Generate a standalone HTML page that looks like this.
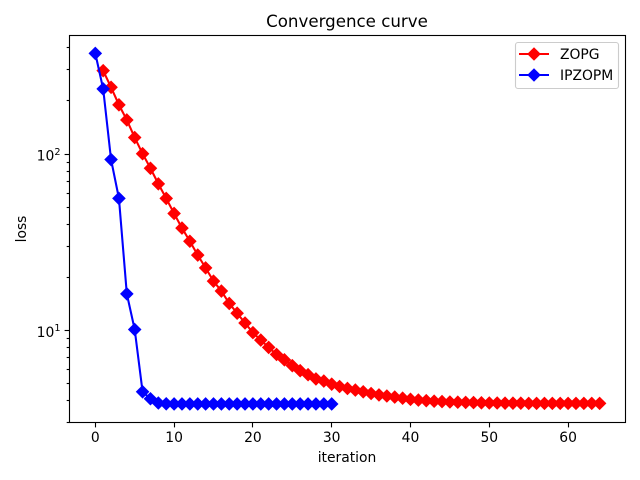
<!DOCTYPE html>
<html>
<head>
<meta charset="utf-8">
<title>Convergence curve</title>
<style>
html,body{margin:0;padding:0;background:#fff;}
svg{display:block;}
text{font-family:"DejaVu Sans","Liberation Sans",sans-serif;fill:#000;}
</style>
</head>
<body>
<svg id="chart" xmlns="http://www.w3.org/2000/svg" width="640" height="480" viewBox="0 0 640 480">
  <rect x="0" y="0" width="640" height="480" fill="#fff"/>
  <text x="347" y="27" font-size="16.67" text-anchor="middle">Convergence curve</text>
  <g id="marks"></g>
  <g id="axes"></g>
  <rect x="69.5" y="35.5" width="556" height="387" fill="none" stroke="#000" stroke-width="1.11"/>
  <text x="347" y="462" font-size="13.89" text-anchor="middle">iteration</text>
  <text transform="translate(26,229) rotate(-90)" font-size="13.89" text-anchor="middle">loss</text>
  <g>
    <rect x="515.5" y="42.5" width="103" height="46" rx="2.5" fill="#fff" fill-opacity="0.8" stroke="#ccc" stroke-width="1.11"/>
    <g>
      <line x1="519" y1="54" x2="549" y2="54" stroke="#f00" stroke-width="2.08"/>
      <polygon points="534,47.2 540.8,54 534,60.8 527.2,54" fill="#f00"/>
      <text x="560" y="59" font-size="13.89">ZOPG</text>
    </g>
    <g>
      <line x1="519" y1="75" x2="549" y2="75" stroke="#00f" stroke-width="2.08"/>
      <polygon points="534,68.2 540.8,75 534,81.8 527.2,75" fill="#00f"/>
      <text x="560" y="80" font-size="13.89">IPZOPM</text>
    </g>
  </g>
</svg>
<script>
var zopgStart = 1;
var ipzopmStart = 0;
var zopgValues = [297,239,190,156,124,100.4,83,67.7,56,46,38,32,26.7,22.6,19,16.7,14.2,12.5,11,9.7,8.8,8,7.3,6.8,6.3,5.9,5.6,5.3,5.15,4.95,4.8,4.68,4.58,4.48,4.38,4.3,4.24,4.18,4.12,4.06,4.02,3.99,3.96,3.94,3.92,3.91,3.9,3.89,3.88,3.87,3.87,3.86,3.86,3.86,3.85,3.85,3.85,3.85,3.85,3.85,3.85,3.85,3.85,3.85];
var ipzopmValues = [372,234,93,56,16.1,10.1,4.48,4.09,3.87,3.83,3.82,3.82,3.82,3.82,3.82,3.82,3.82,3.82,3.82,3.82,3.82,3.82,3.82,3.82,3.82,3.82,3.82,3.82,3.82,3.82,3.82];
var xTicks = [0,10,20,30,40,50,60];
var yMajorTicks = [10,100];
var yMajorExponents = ["1","2"];
var yMinorTicks = [3,4,5,6,7,8,9,20,30,40,50,60,70,80,90,200,300,400];

var NS = 'http://www.w3.org/2000/svg';
function xScale(v){ return 95.3 + v * 7.88; }
function yScale(v){ return 330.3 - (Math.log(v) / Math.LN10 - 1) * 176.3; }
function snap(p){ return Math.round(p - 0.5) + 0.5; }
function make(tag, parent){
  var el = document.createElementNS(NS, tag);
  parent.appendChild(el);
  return el;
}
var marks = document.getElementById('marks');
var axes = document.getElementById('axes');

function drawSeries(values, start, color, label){
  var pts = values.map(function(v, i){ return [xScale(start + i), yScale(v)]; });
  var line = make('polyline', marks);
  
  
  line.setAttribute('points', pts.map(function(p){ return p[0].toFixed(2) + ',' + p[1].toFixed(2); }).join(' '));
  line.setAttribute('fill', 'none');
  line.setAttribute('stroke', color);
  line.setAttribute('stroke-width', '2.08');
  pts.forEach(function(p){
    var d = 6.8;
    var m = make('polygon', marks);
    
    
    m.setAttribute('points', p[0].toFixed(2) + ',' + (p[1]-d).toFixed(2) + ' ' + (p[0]+d).toFixed(2) + ',' + p[1].toFixed(2) + ' ' + p[0].toFixed(2) + ',' + (p[1]+d).toFixed(2) + ' ' + (p[0]-d).toFixed(2) + ',' + p[1].toFixed(2));
    m.setAttribute('fill', color);
  });
}
drawSeries(zopgValues, zopgStart, '#f00', 'zopg');
drawSeries(ipzopmValues, ipzopmStart, '#00f', 'ipzopm');

function tickLine(x1, y1, x2, y2, name){
  var t = make('line', axes);
  
  
  t.setAttribute('x1', x1);
  t.setAttribute('y1', y1);
  t.setAttribute('x2', x2);
  t.setAttribute('y2', y2);
  t.setAttribute('stroke', '#000');
  t.setAttribute('stroke-width', '1.11');
}
xTicks.forEach(function(v){
  var x = snap(xScale(v));
  tickLine(x, 422.5, x, 427.4, 'x-tick');
  var t = make('text', axes);
  
  
  t.setAttribute('x', xScale(v));
  t.setAttribute('y', 442);
  t.setAttribute('font-size', '13.89');
  t.setAttribute('text-anchor', 'middle');
  t.textContent = String(v);
});
yMajorTicks.forEach(function(v, i){
  var y = snap(yScale(v));
  tickLine(69.5, y, 64.6, y, 'y-major-tick');
  var t = make('text', axes);
  
  
  t.setAttribute('x', 60.5);
  t.setAttribute('y', yScale(v) + 6.5);
  t.setAttribute('font-size', '13.89');
  t.setAttribute('text-anchor', 'end');
  t.appendChild(document.createTextNode('10'));
  var sup = make('tspan', t);
  sup.setAttribute('font-size', '9.7');
  sup.setAttribute('dy', '-5.6');
  sup.textContent = yMajorExponents[i];
});
yMinorTicks.forEach(function(v){
  var y = snap(yScale(v));
  tickLine(69.5, y, 66.7, y, 'y-minor-tick');
});
</script>
</body>
</html>
